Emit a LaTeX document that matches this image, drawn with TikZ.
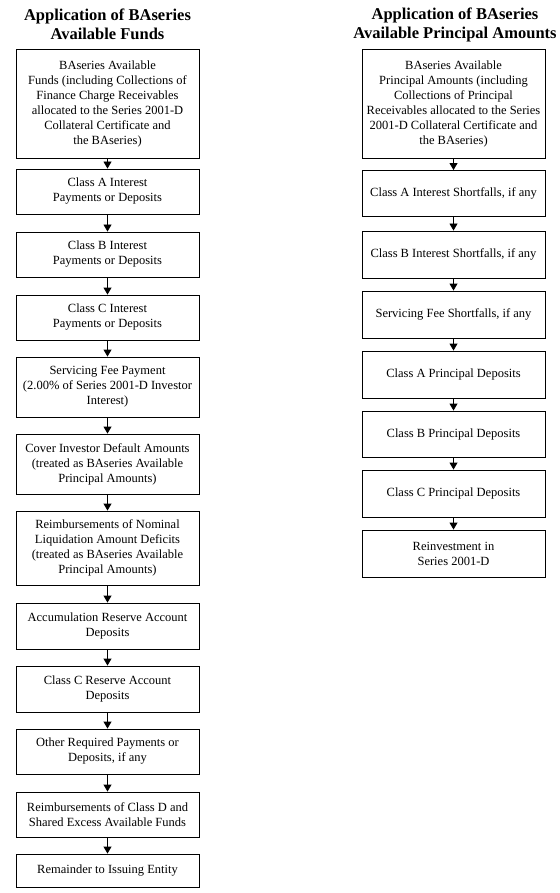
\documentclass[tikz,border=0pt]{standalone}
\usepackage{fontspec}
\setmainfont{Liberation Serif}
\usetikzlibrary{arrows.meta}
\begin{document}
\begin{tikzpicture}[x=1pt,y=1pt,
  box/.style={draw=black, line width=0.9pt, rectangle, minimum width=183pt, inner sep=0pt,
    align=center, font=\fontsize{12.5}{15}\selectfont},
  title/.style={align=center, font=\fontsize{16.5}{19}\selectfont\bfseries},
  flow/.style={-{Triangle[width=8pt,length=7pt]}, line width=0.9pt}]
\useasboundingbox (0,0) rectangle (559,-893);
% titles
\node[title] (tl) at (107.5,-24.5) {Application of BAseries\\Available Funds};
\node[title] (tr) at (455,-24.5) {Application of BAseries\\Available Principal Amounts};
% left column
\node[box, minimum height=109pt] (l1) at (107.5,-103.5) {BAseries Available\\Funds (including Collections of\\Finance Charge Receivables\\allocated to the Series 2001-D\\Collateral Certificate and\\the BAseries)};
\node[box, minimum height=45pt] (l2) at (107.5,-191.5) {Class A Interest\\Payments or Deposits};
\node[box, minimum height=45pt] (l3) at (107.5,-254.5) {Class B Interest\\Payments or Deposits};
\node[box, minimum height=45pt] (l4) at (107.5,-317.5) {Class C Interest\\Payments or Deposits};
\node[box, minimum height=60pt] (l5) at (107.5,-387) {Servicing Fee Payment\\(2.00\% of Series 2001-D Investor\\Interest)};
\node[box, minimum height=60pt] (l6) at (107.5,-464) {Cover Investor Default Amounts\\(treated as BAseries Available\\Principal Amounts)};
\node[box, minimum height=74pt] (l7) at (107.5,-548) {Reimbursements of Nominal\\Liquidation Amount Deficits\\(treated as BAseries Available\\Principal Amounts)};
\node[box, minimum height=46pt] (l8) at (107.5,-626) {Accumulation Reserve Account\\Deposits};
\node[box, minimum height=46pt] (l9) at (107.5,-689) {Class C Reserve Account\\Deposits};
\node[box, minimum height=45pt] (l10) at (107.5,-751.5) {Other Required Payments or\\Deposits, if any};
\node[box, minimum height=45pt] (l11) at (107.5,-814.5) {Reimbursements of Class D and\\Shared Excess Available Funds};
\node[box, minimum height=33pt] (l12) at (107.5,-870.5) {Remainder to Issuing Entity};
% right column
\node[box, minimum height=109pt] (r1) at (453.5,-103.5) {BAseries Available\\Principal Amounts (including\\Collections of Principal\\Receivables allocated to the Series\\2001-D Collateral Certificate and\\the BAseries)};
\node[box, minimum height=46pt] (r2) at (453.5,-193.5) {Class A Interest Shortfalls, if any};
\node[box, minimum height=47pt] (r3) at (453.5,-254.5) {Class B Interest Shortfalls, if any};
\node[box, minimum height=47pt] (r4) at (453.5,-314.5) {Servicing Fee Shortfalls, if any};
\node[box, minimum height=47pt] (r5) at (453.5,-374.5) {Class A Principal Deposits};
\node[box, minimum height=46pt] (r6) at (453.5,-434) {Class B Principal Deposits};
\node[box, minimum height=47pt] (r7) at (453.5,-493.5) {Class C Principal Deposits};
\node[box, minimum height=47pt] (r8) at (453.5,-553.5) {Reinvestment in\\Series 2001-D};
% connectors
\foreach \a/\b in {l1/l2,l2/l3,l3/l4,l4/l5,l5/l6,l6/l7,l7/l8,l8/l9,l9/l10,l10/l11,l11/l12,
                   r1/r2,r2/r3,r3/r4,r4/r5,r5/r6,r6/r7,r7/r8}
  \draw[flow] (\a.south) -- (\b.north);
\end{tikzpicture}
\end{document}
